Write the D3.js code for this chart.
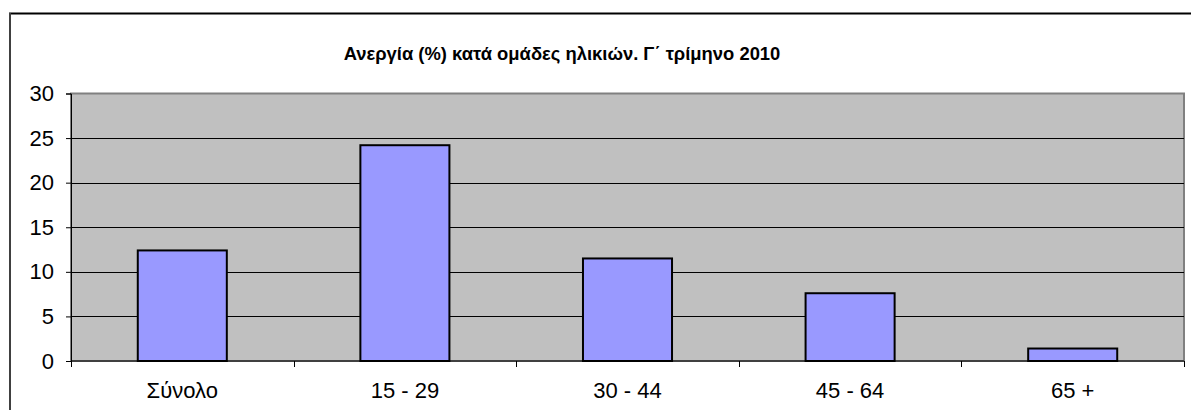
<!DOCTYPE html>
<html><head><meta charset="utf-8">
<script src="https://cdn.jsdelivr.net/npm/d3@7/dist/d3.min.js"></script>
<style>body{margin:0;background:#fff}svg{display:block}</style>
</head><body>
<svg id="c" width="1191" height="410"></svg>
<script>
const categories = ["Σύνολο", "15 - 29", "30 - 44", "45 - 64", "65 +"];
const values = [12.4, 24.2, 11.5, 7.6, 1.4];
const yTicks = [0, 5, 10, 15, 20, 25, 30];
const title = "Ανεργία (%) κατά ομάδες ηλικιών. Γ΄ τρίμηνο 2010";

const svg = d3.select("#c");
const font = "'Liberation Sans', Arial, sans-serif";
const L = 71, R = 1184, T = 93.5, B = 361;

// outer frame
svg.append("line").attr("x1", 9).attr("x2", 1191).attr("y1", 13.5).attr("y2", 13.5).attr("stroke", "#000").attr("stroke-width", 2);
svg.append("line").attr("x1", 10).attr("x2", 10).attr("y1", 13).attr("y2", 410).attr("stroke", "#404040").attr("stroke-width", 2);

const tt = svg.append("text").attr("x", 562).attr("y", 60).attr("text-anchor", "middle")
  .style("font-family", font).style("font-weight", "bold").style("font-size", "20px").text(title);
const tw = tt.node().getComputedTextLength();
tt.style("font-size", (20 * 437 / tw).toFixed(2) + "px");

const x = d3.scaleBand().domain(categories).range([L, R]).paddingInner(0.6).paddingOuter(0.3);
const y = d3.scaleLinear().domain([0, 30]).range([B, T]);

svg.append("rect").attr("x", L).attr("y", T).attr("width", R - L).attr("height", B - T)
  .attr("fill", "#C0C0C0").attr("stroke", "#808080").attr("stroke-width", 2);

svg.append("g").selectAll("line").data(yTicks.filter(d => d > 0 && d < 30)).join("line")
  .attr("x1", L).attr("x2", R).attr("y1", d => Math.round(y(d)) + 0.5).attr("y2", d => Math.round(y(d)) + 0.5)
  .attr("stroke", "#000").attr("stroke-width", 1);

svg.append("g").selectAll("rect").data(values).join("rect")
  .attr("x", (d, i) => x(categories[i])).attr("width", x.bandwidth())
  .attr("y", d => y(d)).attr("height", d => B - y(d))
  .attr("fill", "#9999FF").attr("stroke", "#000").attr("stroke-width", 2);

// y axis
const ya = svg.append("g").attr("transform", `translate(${L},0)`)
  .call(d3.axisLeft(y).tickValues(yTicks).tickSize(5).tickPadding(12));
ya.select(".domain").attr("stroke", "#000");
ya.selectAll("text").style("font-family", font).style("font-size", "22px").attr("fill", "#000");

// x axis with ticks at band boundaries
const xa = svg.append("g").attr("transform", `translate(0,${B})`);
xa.append("line").attr("x1", L).attr("x2", R).attr("y1", 0).attr("y2", 0).attr("stroke", "#000");
const bounds = d3.range(categories.length + 1).map(i => L + i * (R - L) / categories.length);
xa.selectAll("line.t").data(bounds).join("line").attr("class", "t")
  .attr("x1", d => Math.round(d) + 0.5).attr("x2", d => Math.round(d) + 0.5).attr("y1", 0).attr("y2", 6).attr("stroke", "#000");
xa.selectAll("text").data(categories).join("text")
  .attr("x", d => x(d) + x.bandwidth() / 2).attr("y", 37).attr("text-anchor", "middle")
  .style("font-family", font).style("font-size", "22px").attr("fill", "#000").text(d => d);
</script>
</body></html>
